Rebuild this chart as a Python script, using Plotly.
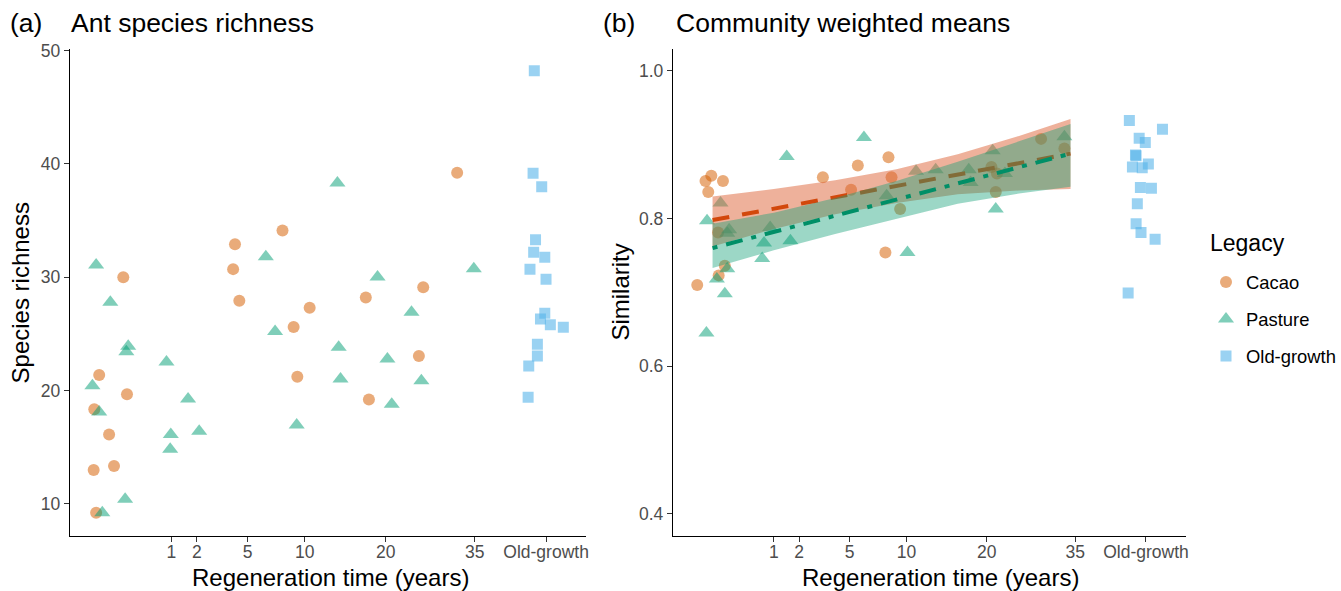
import numpy as np
import plotly.graph_objects as go

# ---------------- data (x in axis units = sqrt(regeneration years); old-growth placed at sqrt(50)) -------------
tick_years = [1, 2, 5, 10, 20, 35, 50]
tick_labels = ["1", "2", "5", "10", "20", "35", "Old-growth"]

# Panel (a): Ant species richness
cacao_a_x = [-0.26, -0.22, -0.25, -0.17, -0.01, 0.07, 0.22, 0.28, 2.00, 2.03, 2.10, 2.80, 2.98, 3.04, 3.24,
             4.15, 4.20, 5.01, 5.08, 5.63]
cacao_a_y = [12.97, 9.2, 18.33, 21.36, 16.1, 13.33, 29.98, 19.66, 30.7, 32.9, 27.9, 34.1, 25.6, 21.2, 27.3,
             28.2, 19.2, 23.04, 29.1, 39.2]
pasture_a_x = [-0.22, 0.01, 0.30, 0.27, 0.92, -0.28, 1.27, -0.17, 3.03, 0.99, 1.45, 0.98, 0.25, -0.12, 2.53,
               2.68, 3.69, 3.71, 3.74, 4.34, 4.50, 4.57, 4.89, 5.05, 5.90]
pasture_a_y = [31.07, 27.78, 23.9, 23.4, 22.5, 20.4, 19.24, 18.1, 16.95, 16.1, 16.4, 14.8, 10.4, 9.2, 31.8,
               25.2, 38.3, 23.8, 21.0, 30.0, 22.77, 18.77, 26.9, 20.86, 30.74]
old_a_x = [6.88, 6.86, 7.00, 6.90, 6.87, 7.05, 6.81, 7.07, 7.05, 6.98, 7.14, 7.35, 6.93, 6.93, 6.79, 6.78]
old_a_y = [48.2, 39.16, 37.98, 33.3, 32.2, 31.75, 30.7, 29.8, 26.8, 26.3, 25.8, 25.56, 24.07, 23.04, 22.15, 19.4]

# Panel (b): Community weighted means (similarity)
cacao_b_x = [-0.115, -0.02, 0.17, -0.07, 1.80, 2.37, 2.26, 0.09, 0.20, 0.10, -0.25, 2.87, 2.92, 3.06, 2.82,
             4.55, 4.64, 4.62, 5.36, 5.74]
cacao_b_y = [0.851, 0.858, 0.851, 0.836, 0.856, 0.872, 0.839, 0.781, 0.736, 0.723, 0.710, 0.883, 0.856, 0.813,
             0.754, 0.870, 0.861, 0.836, 0.908, 0.895]
pasture_b_x = [1.21, 0.13, -0.09, 0.27, 0.24, 0.94, 0.84, 1.27, 0.81, 0.24, 0.07, 0.20, -0.10, 2.47, 2.84,
               3.32, 3.64, 4.18, 4.21, 4.57, 4.77, 4.62, 3.18, 5.74]
pasture_b_y = [0.884, 0.821, 0.797, 0.785, 0.780, 0.788, 0.767, 0.770, 0.746, 0.732, 0.718, 0.698, 0.645,
               0.910, 0.831, 0.864, 0.866, 0.866, 0.849, 0.892, 0.861, 0.813, 0.754, 0.911]
old_b_x = [6.80, 7.34, 6.96, 7.06, 6.90, 6.91, 6.85, 7.01, 7.11, 6.98, 7.16, 6.93, 6.91, 6.99, 7.22, 6.78]
old_b_y = [0.933, 0.921, 0.909, 0.903, 0.886, 0.885, 0.870, 0.869, 0.874, 0.842, 0.841, 0.820, 0.793, 0.781,
           0.772, 0.699]

# Fitted lines and confidence ribbons (panel b)
fit_x = [0.0, 5.84]
cacao_fit = [0.798, 0.888]
pasture_fit = [0.760, 0.888]
band_x = [0.0, 1.0, 2.0, 3.0, 4.0, 5.0, 5.84]
cacao_lo = [0.762, 0.786, 0.806, 0.821, 0.833, 0.838, 0.840]
cacao_hi = [0.830, 0.840, 0.852, 0.867, 0.887, 0.912, 0.935]
pasture_lo = [0.733, 0.757, 0.779, 0.800, 0.820, 0.834, 0.843]
pasture_hi = [0.793, 0.808, 0.828, 0.851, 0.877, 0.905, 0.928]

# ---------------- styling ----------------
W, H = 1341, 591
FONT = "Liberation Sans, Arial, sans-serif"
C_CACAO = "rgba(213,94,0,0.52)"
C_PAST = "rgba(0,158,115,0.5)"
C_OLD = "rgba(86,180,233,0.6)"
tickvals = [float(np.sqrt(v)) for v in tick_years]

# the photographed page is slightly squeezed, with a small band above; compensate placement
TOP_BAND = 9.0
V_SCALE = 0.9848
H_SCALE = 0.994


def px(x):
    return (x / H_SCALE) / W


def py(y):
    return 1 - ((y - TOP_BAND) / V_SCALE) / H


fig = go.Figure()


def add_points(xs, ys, color, symbol, size, name, xa, ya, show):
    fig.add_trace(go.Scatter(x=xs, y=ys, mode="markers", name=name, legendgroup=name, showlegend=show,
                             marker=dict(color=color, symbol=symbol, size=size, line=dict(width=0)),
                             xaxis=xa, yaxis=ya))


# panel a points
add_points(cacao_a_x, cacao_a_y, C_CACAO, "circle", 12, "Cacao", "x", "y", False)
add_points(pasture_a_x, pasture_a_y, C_PAST, "triangle-up", 14, "Pasture", "x", "y", False)
add_points(old_a_x, old_a_y, C_OLD, "square", 11, "Old-growth", "x", "y", False)

# panel b points
add_points(cacao_b_x, cacao_b_y, C_CACAO, "circle", 12, "Cacao", "x2", "y2", True)
add_points(pasture_b_x, pasture_b_y, C_PAST, "triangle-up", 14, "Pasture", "x2", "y2", True)
add_points(old_b_x, old_b_y, C_OLD, "square", 11, "Old-growth", "x2", "y2", True)

# ribbons and lines
fig.add_trace(go.Scatter(x=band_x + band_x[::-1], y=cacao_hi + cacao_lo[::-1], fill="toself",
                         fillcolor="rgba(222,100,55,0.5)", line=dict(width=0), mode="lines",
                         showlegend=False, hoverinfo="skip", xaxis="x2", yaxis="y2"))
fig.add_trace(go.Scatter(x=fit_x, y=cacao_fit, mode="lines", showlegend=False,
                         line=dict(color="#D2480C", width=4, dash="17px,13px"), xaxis="x2", yaxis="y2"))
fig.add_trace(go.Scatter(x=band_x + band_x[::-1], y=pasture_hi + pasture_lo[::-1], fill="toself",
                         fillcolor="rgba(20,160,120,0.42)", line=dict(width=0), mode="lines",
                         showlegend=False, hoverinfo="skip", xaxis="x2", yaxis="y2"))
fig.add_trace(go.Scatter(x=fit_x, y=pasture_fit, mode="lines", showlegend=False,
                         line=dict(color="#008F67", width=4, dash="5px,9px,17px,9px"), xaxis="x2", yaxis="y2"))

axis_common = dict(showline=True, linecolor="black", linewidth=1.4, ticks="outside", ticklen=5,
                   tickcolor="#333333", tickwidth=1.2, showgrid=False, zeroline=False,
                   tickfont=dict(family=FONT, size=17.5, color="#4D4D4D"))
x_common = dict(axis_common, ticklabelstandoff=-5, range=[-0.645, 7.72], tickvals=tickvals,
                ticktext=tick_labels)
y_common = dict(axis_common, ticklabelstandoff=0, domain=[py(536), py(49.3)])

fig.update_layout(
    width=W, height=H, margin=dict(l=0, r=0, t=0, b=0),
    paper_bgcolor="white", plot_bgcolor="white",
    font=dict(family=FONT),
    xaxis=dict(domain=[px(70), px(587)], anchor="y", **x_common),
    yaxis=dict(range=[7.15, 50.1], tickvals=[10, 20, 30, 40, 50], anchor="x", **y_common),
    xaxis2=dict(domain=[px(674), px(1187.5)], anchor="y2", **x_common),
    yaxis2=dict(range=[0.3698, 1.0294], tickvals=[0.4, 0.6, 0.8, 1.0], tickformat=".1f", anchor="x2",
                **y_common),
    legend=dict(x=px(1208), y=py(263.6), xanchor="left", yanchor="top", bgcolor="rgba(0,0,0,0)",
                font=dict(family=FONT, size=18.4, color="black"), tracegroupgap=10,
                itemsizing="trace"),
)

annos = [
    dict(text="(a)", x=px(8.5), y=py(23.5), xanchor="left", size=26.5),
    dict(text="Ant species richness", x=px(69.5), y=py(23.5), xanchor="left", size=26.5),
    dict(text="(b)", x=px(602), y=py(23.5), xanchor="left", size=26.5),
    dict(text="Community weighted means", x=px(674.5), y=py(23.5), xanchor="left", size=26.5),
    dict(text="Regeneration time (years)", x=px(331), y=py(578), xanchor="center", size=24),
    dict(text="Regeneration time (years)", x=px(942), y=py(578), xanchor="center", size=24),
    dict(text="Legacy", x=px(1209.5), y=py(243), xanchor="left", size=23),
]
for a in annos:
    fig.add_annotation(text=a["text"], x=a["x"], y=a["y"], xref="paper", yref="paper", xanchor=a["xanchor"],
                       yanchor="middle", showarrow=False, font=dict(family=FONT, size=a["size"], color="black"))
for txt, xx in [("Species richness", 21), ("Similarity", 621)]:
    fig.add_annotation(text=txt, x=px(xx), y=py(292.5), xref="paper", yref="paper", xanchor="center",
                       yanchor="middle", textangle=-90, showarrow=False,
                       font=dict(family=FONT, size=24, color="black"))

post = ("document.body.style.margin='0px';document.body.style.overflow='hidden';"
        "var d=document.getElementById('{plot_id}');d.style.position='fixed';d.style.top='0px';d.style.left='0px';")
fig.write_html("out.html", config={"displayModeBar": False}, post_script=post)
